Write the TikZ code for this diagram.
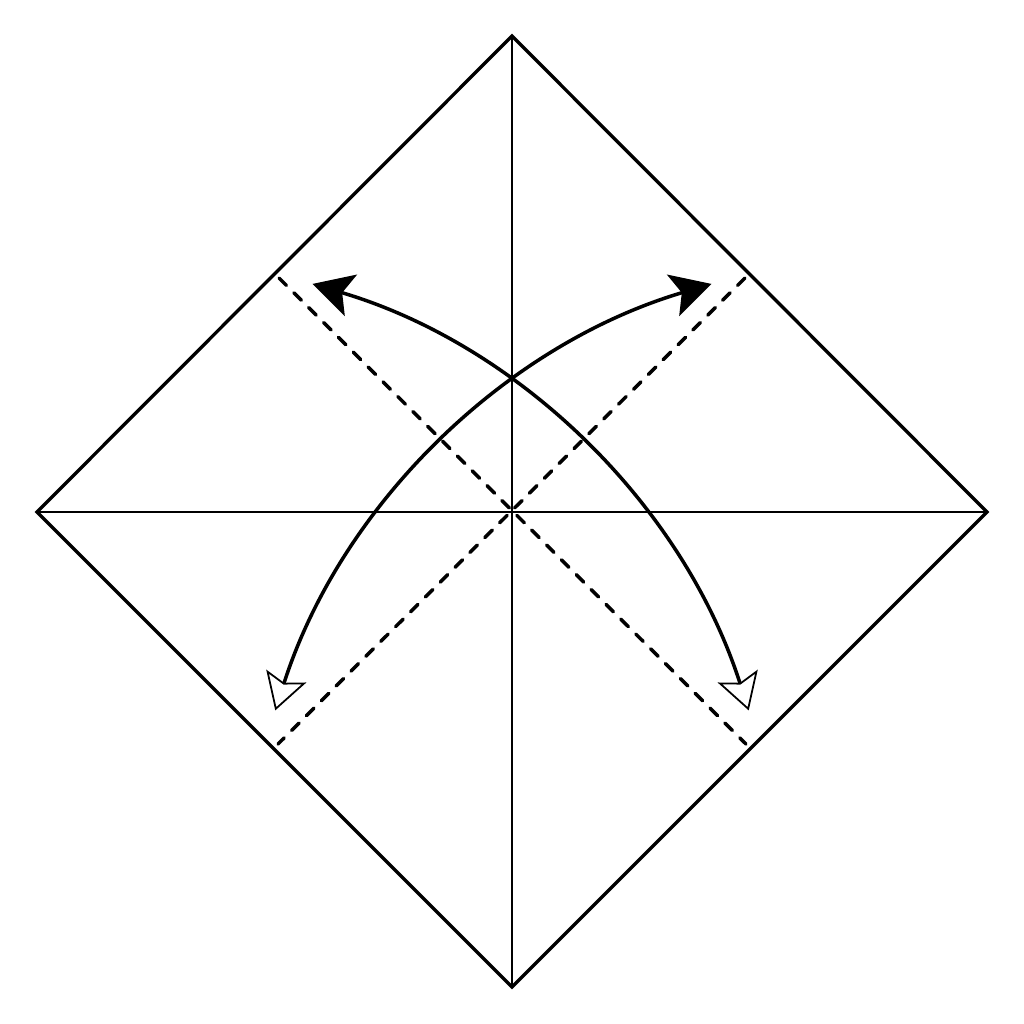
\documentclass[tikz,border=0pt]{standalone}
\usepackage{tikz}
\usetikzlibrary{calc,arrows.meta}

\begin{document}
\begin{tikzpicture}[
    edge/.style={line width=0.95pt, line join=miter},
    crease/.style={line width=0.6pt},
    valley/.style={line width=1pt, line cap=round, dash pattern=on 1.05mm off 1.05mm},
    foldarrow/.style={line width=1pt,
        {Stealth[open, length=3.6mm, width=4.2mm, inset=0.7mm, line width=0.5pt]}-{Stealth[length=4mm, width=4.3mm, inset=0.9mm]}}
    ]
    \useasboundingbox (-5.12,-5.12) rectangle (5.12,5.12);
    % corners of the square
    \coordinate (T) at (0,4.76);
    \coordinate (R) at (4.75,0);
    \coordinate (B) at (0,-4.75);
    \coordinate (L) at (-4.75,0);
    % ends of the fold lines
    \coordinate (NW) at (-2.33,2.34);
    \coordinate (SE) at (2.34,-2.32);
    \coordinate (NE) at (2.33,2.34);
    \coordinate (SW) at (-2.34,-2.32);
    % centres of the arrow arcs
    \coordinate (c1) at (-3.85,-3.98);
    \coordinate (c2) at (3.85,-3.98);

    \draw[crease] (T) -- (B);
    \draw[crease] (L) -- (R);
    \draw[edge] (T) -- (R) -- (B) -- (L) -- cycle;

    % valley folds
    \draw[valley] (NW) -- (SE);
    \draw[valley] (NE) -- (SW);

    % fold and unfold
    \draw[foldarrow] ($(c1)+(17.8:6.53)$) arc[start angle=17.8, end angle=73.5, radius=6.53];
    \draw[foldarrow] ($(c2)+(162.2:6.53)$) arc[start angle=162.2, end angle=106.5, radius=6.53];
\end{tikzpicture}
\end{document}
